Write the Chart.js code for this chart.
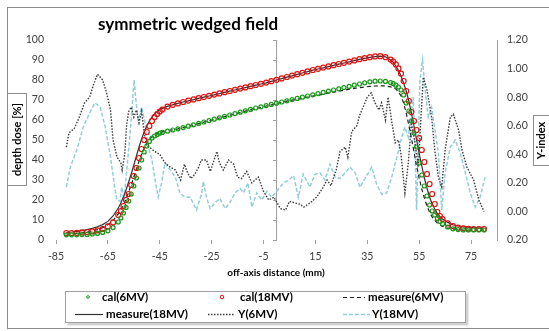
<!DOCTYPE html>
<html>
<head>
<meta charset="utf-8">
<script src="https://cdn.jsdelivr.net/npm/chart.js@4.4.1/dist/chart.umd.min.js"></script>
<style>
  body { margin: 0; background: #fff; }
  #chart { display: block; }
</style>
</head>
<body>
<canvas id="chart" width="549" height="331"></canvas>
<script>
// off-axis positions (mm) shared by the four profile series
const profX = [-81, -79, -77, -75, -73, -71, -69, -67, -65, -63, -61,
  -60, -59, -58, -57, -56, -55, -54, -53, -52, -51, -50, -49, -48, -47, -46, -45, -44,
  -42, -40, -38, -36, -34, -32, -30, -28, -26, -24, -22, -20, -18, -16, -14, -12, -10, -8, -6, -4, -2,
  0, 2, 4, 6, 8, 10, 12, 14, 16, 18, 20, 22, 24, 26, 28, 30, 32, 34, 36, 38, 40, 42, 44,
  45, 46, 47, 48, 49, 50, 51, 52, 53, 54, 55, 56, 57, 58, 59, 60, 61, 62, 63, 64,
  66, 68, 70, 72, 74, 76, 78, 80];

const cal6 = [2.6, 2.6, 2.6, 2.7, 2.8, 3.0, 3.3, 3.8, 4.6, 6.2, 9.0,
  11, 13.5, 16.3, 19.5, 23, 27, 31, 36, 40, 44, 47, 49.3, 51, 52, 52.8, 53.4, 53.8,
  54.4, 55.0, 55.6, 56.2, 56.9, 57.6, 58.3, 59.0, 59.7, 60.4, 61.1, 61.8, 62.5, 63.2, 63.9, 64.6, 65.3, 66.0, 66.6, 67.2, 67.8,
  68.4, 69.0, 69.6, 70.2, 70.8, 71.4, 72.0, 72.6, 73.2, 73.8, 74.4, 75.0, 75.6, 76.2, 76.8, 77.4, 78.0, 78.6, 79.1, 79.4, 79.5, 79.3, 78.7,
  78.2, 77.4, 76.5, 75.0, 72.5, 68.5, 64.5, 59.5, 53.5, 46.5, 38.5, 32.5, 27, 22, 17.5, 14.5, 12.5, 10.8, 9.3, 8.0,
  6.5, 5.6, 5.2, 5.0, 5.0, 5.0, 5.0, 5.0];

const cal18 = [3.5, 3.5, 3.6, 3.8, 4.0, 4.3, 4.8, 5.5, 6.8, 8.8, 12.5,
  14.5, 17, 20, 23, 27.5, 32, 36, 41, 45.5, 50, 54, 57, 59.5, 61.5, 63, 64.2, 65.2,
  66.7, 67.6, 68.3, 69.0, 69.7, 70.3, 70.9, 71.5, 72.1, 72.7, 73.3, 73.9, 74.5, 75.1, 75.7, 76.3, 76.9, 77.5, 78.1, 78.7, 79.4,
  80.1, 80.8, 81.5, 82.2, 82.9, 83.6, 84.3, 85.0, 85.6, 86.2, 86.8, 87.4, 88.0, 88.6, 89.2, 89.8, 90.4, 90.9, 91.4, 91.8, 91.9, 91.4, 90.2,
  89.2, 87.8, 85.8, 83.2, 79.5, 74.5, 69.5, 64, 59.5, 55, 51, 45, 39, 33, 28, 23, 18, 14, 12, 10.5,
  8.3, 7.0, 6.2, 5.8, 5.6, 5.5, 5.5, 5.5];

const meas6 = [3.0, 3.1, 3.3, 3.6, 4.0, 4.5, 5.2, 6.2, 7.6, 9.8, 13,
  15, 17.5, 20.5, 24, 27.5, 31.5, 35.5, 39.5, 43, 46, 48.5, 50.3, 51.6, 52.5, 53.2, 53.7, 54.1,
  54.6, 55.1, 55.6, 56.2, 56.8, 57.5, 58.2, 58.9, 59.6, 60.3, 61.0, 61.7, 62.4, 63.0, 63.7, 64.4, 65.1, 65.8, 66.4, 67.0, 67.6,
  68.2, 68.8, 69.4, 69.9, 70.4, 70.9, 71.4, 71.9, 72.4, 72.9, 73.4, 73.9, 74.4, 74.9, 75.4, 75.8, 76.2, 76.5, 76.8, 77.0, 77.1, 77.0, 76.6,
  76.2, 75.5, 74.2, 72.0, 68.5, 63.5, 57.5, 51, 44, 37, 31, 25.5, 21, 17, 14, 11.5, 9.8, 8.5, 7.5, 6.8,
  5.9, 5.4, 5.2, 5.0, 5.0, 5.0, 5.0, 5.0];

const meas18 = [3.8, 4.0, 4.3, 4.7, 5.2, 5.8, 6.6, 7.7, 9.3, 12, 16,
  18.5, 21.5, 25, 29, 33, 37.5, 42, 46.5, 50.5, 54, 57, 59.5, 61.5, 63, 64.2, 65.1, 65.8,
  66.8, 67.6, 68.3, 69.0, 69.6, 70.2, 70.8, 71.4, 72.0, 72.6, 73.2, 73.8, 74.4, 75.0, 75.6, 76.2, 76.8, 77.4, 78.0, 78.6, 79.3,
  80.0, 80.7, 81.4, 82.1, 82.8, 83.5, 84.2, 84.9, 85.5, 86.1, 86.7, 87.3, 87.9, 88.5, 89.1, 89.7, 90.3, 90.8, 91.3, 91.7, 91.9, 91.6, 90.0,
  88.8, 87.0, 84.8, 82.0, 78.5, 74.5, 69.5, 63.5, 57, 50, 43.5, 37, 31, 26, 21.5, 18, 15.5, 13.3, 11.7, 10.5,
  8.8, 7.6, 7.0, 6.6, 6.4, 6.2, 6.1, 6.0];

// gamma index, 6MV
const gamX6 = [-81, -80, -78, -76, -74, -72, -70.5, -69, -67, -65.5, -64, -63, -61.5, -60, -59.5, -58.5, -57.8, -57, -56, -55,
  -54, -53, -52, -51, -50, -49, -47, -45, -43, -41, -39, -37, -35.5, -34.5, -33, -31.5, -30, -29, -27, -25.5,
  -23, -22, -20.5, -18.5, -16.5, -15, -13.5, -11.5, -9.5, -7, -5, -3, -1, 1.5, 3.5, 5, 7, 9, 10.5, 13,
  15.5, 18, 19.5, 21, 23, 24.5, 26.5, 27.5, 29, 31, 32, 35, 36.5, 38, 39.5, 40.5, 42, 43, 44.5, 45.8,
  47, 48, 49, 49.5, 50.8, 52, 53.4, 54.7, 55.5, 56.6, 58, 59.8, 61, 62.4, 63.7, 65, 67, 68.2, 70.2, 71.5,
  73.4, 76, 78, 80];
const gamma6 = [0.45, 0.55, 0.58, 0.66, 0.76, 0.80, 0.89, 0.96, 0.92, 0.83, 0.71, 0.50, 0.38, 0.34, 0.29, 0.40, 0.60, 0.70, 0.73, 0.66,
  0.71, 0.62, 0.70, 0.55, 0.46, 0.45, 0.42, 0.40, 0.34, 0.31, 0.29, 0.22, 0.33, 0.28, 0.23, 0.26, 0.31, 0.36, 0.36, 0.28,
  0.42, 0.34, 0.29, 0.36, 0.33, 0.24, 0.23, 0.28, 0.20, 0.24, 0.14, 0.08, 0.10, 0.02, 0.01, 0.07, 0.06, 0.05, 0.03, 0.06,
  0.10, 0.17, 0.22, 0.18, 0.29, 0.42, 0.45, 0.38, 0.56, 0.60, 0.67, 0.80, 0.83, 0.76, 0.71, 0.76, 0.64, 0.80, 0.62, 0.48,
  0.50, 0.40, 0.22, 0.13, 0.34, 0.62, 0.48, 0.31, 0.60, 0.94, 0.85, 0.66, 0.43, 0.24, 0.17, 0.43, 0.66, 0.68, 0.57, 0.43,
  0.31, 0.22, 0.08, 0.00];

// gamma index, 18MV
const gamX18 = [-81, -79.5, -77, -74.5, -72, -70, -68, -66, -64, -62.3, -61.5, -60.3, -59.7, -58.8, -57, -55.8, -54.9, -54.2, -53.3, -52,
  -50.7, -49.4, -48, -46.8, -45.6, -44.3, -43, -41, -39, -37.2, -35.3, -33.3, -30.8, -28.8, -28.2, -27, -25.6, -23.7, -21.8, -19.8,
  -18, -16, -14, -12.8, -11, -9.5, -7.6, -5.7, -3.7, -1.8, 0, 2.7, 4.6, 6.6, 8.4, 10.3, 12.9, 14.8, 16.8, 18.7,
  20.6, 22.6, 24.5, 26.4, 28.3, 30.3, 32.2, 34.1, 36.7, 38.6, 40.6, 42.5, 44.4, 46.4, 48.3, 49.5, 50.8, 52.7, 53.4, 54,
  55.3, 56.3, 57.3, 58.5, 59.8, 61.1, 62.4, 63.7, 65, 67, 68.9, 70.8, 72.8, 74.7, 76.6, 78.5, 80.4];
const gamma18 = [0.17, 0.31, 0.43, 0.59, 0.69, 0.76, 0.73, 0.59, 0.38, 0.16, 0.08, 0.07, 0.17, 0.08, 0.43, 0.69, 0.92, 0.78, 0.64, 0.73,
  0.62, 0.45, 0.36, 0.22, 0.10, 0.20, 0.34, 0.29, 0.24, 0.13, 0.10, 0.10, 0.01, 0.13, 0.21, 0.10, 0.02, 0.06, 0.09, 0.02,
  0.06, 0.13, 0.16, 0.13, 0.20, 0.03, 0.13, 0.08, 0.14, 0.10, 0.14, 0.20, 0.22, 0.25, 0.10, 0.26, 0.17, 0.26, 0.27, 0.22,
  0.33, 0.24, 0.23, 0.27, 0.31, 0.27, 0.17, 0.23, 0.31, 0.19, 0.12, 0.13, 0.24, 0.38, 0.52, 0.59, 0.52, 0.80, 0.43, 0.01,
  0.92, 1.06, 0.85, 0.66, 0.73, 0.57, 0.41, 0.01, 0.27, 0.45, 0.50, 0.41, 0.27, 0.13, 0.03, 0.10, 0.24];

// tick labels
const xTicks = [-85, -65, -45, -25, -5, 15, 35, 55, 75];
const doseTicks = [0, 10, 20, 30, 40, 50, 60, 70, 80, 90, 100];
const gammaTicks = [-0.2, 0, 0.2, 0.4, 0.6, 0.8, 1.0, 1.2];

const FONT = "Lato, 'Liberation Sans', sans-serif";
const TXT = "#404040";

function pts(xs, ys) {
  return xs.map((x, i) => ({ x: x, y: ys[i] }));
}
function fixTicks(values) {
  return function (scale) {
    scale.ticks = values.map((v) => ({ value: v }));
  };
}

// Chart frame, titles and the boxed legend
const decor = {
  id: "decor",
  beforeDraw(chart) {
    const ctx = chart.ctx;
    ctx.save();
    ctx.fillStyle = "#fff";
    ctx.fillRect(0, 0, chart.width, chart.height);
    ctx.strokeStyle = "#8c8c8c";
    ctx.lineWidth = 1;
    ctx.strokeRect(7.5, 7.5, 600, 321);
    ctx.restore();
  },
  afterDraw(chart) {
    const ctx = chart.ctx;
    ctx.save();
    ctx.fillStyle = "#000";
    ctx.textBaseline = "alphabetic";
    ctx.textAlign = "left";
    ctx.font = "bold 17px " + FONT;
    ctx.fillText("symmetric wedged field", 98, 30);

    ctx.textAlign = "center";
    ctx.textBaseline = "middle";
    ctx.font = "bold 10px " + FONT;
    ctx.fillText("off-axis distance (mm)", 276, 273);

    // left axis title box
    ctx.strokeStyle = "#8c8c8c";
    ctx.strokeRect(7.5, 93.5, 19, 92);
    ctx.save();
    ctx.translate(17.5, 139.5);
    ctx.rotate(-Math.PI / 2);
    ctx.font = "bold 11px " + FONT;
    ctx.fillText("depth dose [%]", 0, 0);
    ctx.restore();

    // right axis title box
    ctx.strokeRect(533.5, 115.5, 30, 50);
    ctx.save();
    ctx.translate(541, 140.5);
    ctx.rotate(-Math.PI / 2);
    ctx.font = "bold 11px " + FONT;
    ctx.fillText("Y-index", 0, 0);
    ctx.restore();

    // legend
    const lx = 65.5, ly = 291.5, lw = 400, lh = 31;
    ctx.fillStyle = "rgba(0,0,0,0.18)";
    ctx.fillRect(lx + 2, ly + 2, lw + 1, lh + 1);
    ctx.fillStyle = "#fff";
    ctx.fillRect(lx, ly, lw, lh);
    ctx.strokeStyle = "#a0a0a0";
    ctx.strokeRect(lx, ly, lw, lh);

    const r1 = 297, r2 = 314;
    const items = chart.data.datasets;
    const place = [
      { x: 88, tx: 102, y: r1 },
      { x: 222, tx: 240, y: r1 },
      { x: 343, x2: 365, tx: 368, y: r1 },
      { x: 75, x2: 103, tx: 106, y: r2 },
      { x: 208, x2: 235, tx: 238, y: r2 },
      { x: 343, x2: 370, tx: 372, y: r2 },
    ];
    items.forEach((ds, i) => {
      const p = place[i];
      if (ds.showLine) {
        ctx.save();
        ctx.strokeStyle = ds.borderColor;
        ctx.lineWidth = ds.borderWidth;
        ctx.setLineDash(ds.borderDash || []);
        ctx.beginPath();
        ctx.moveTo(p.x, p.y + 0.5);
        ctx.lineTo(p.x2, p.y + 0.5);
        ctx.stroke();
        ctx.restore();
      } else {
        ctx.save();
        ctx.strokeStyle = ds.borderColor;
        ctx.lineWidth = 1;
        ctx.beginPath();
        ctx.arc(p.x, p.y, i === 0 ? 1.3 : 1.8, 0, Math.PI * 2);
        ctx.stroke();
        ctx.restore();
      }
      ctx.fillStyle = "#000";
      ctx.textAlign = "left";
      ctx.textBaseline = "middle";
      ctx.font = "bold 11.5px " + FONT;
      ctx.fillText(ds.label, p.tx, p.y);
    });
    ctx.restore();
  },
};

const ctx = document.getElementById("chart").getContext("2d");
new Chart(ctx, {
  type: "scatter",
  data: {
    datasets: [
      {
        label: "cal(6MV)",
        data: pts(profX, cal6),
        yAxisID: "y",
        borderColor: "#1a961a",
        backgroundColor: "rgba(40,160,40,0.08)",
        borderWidth: 1.2,
        pointRadius: 2,
      },
      {
        label: "cal(18MV)",
        data: pts(profX, cal18),
        yAxisID: "y",
        borderColor: "#e01010",
        backgroundColor: "rgba(255,255,255,0)",
        borderWidth: 1.2,
        pointRadius: 2.5,
      },
      {
        label: "measure(6MV)",
        data: pts(profX, meas6),
        yAxisID: "y",
        showLine: true,
        borderColor: "#222",
        borderWidth: 1.2,
        borderDash: [4, 3],
        pointRadius: 0,
      },
      {
        label: "measure(18MV)",
        data: pts(profX, meas18),
        yAxisID: "y",
        showLine: true,
        borderColor: "#333",
        borderWidth: 1.2,
        pointRadius: 0,
      },
      {
        label: "Y(6MV)",
        data: pts(gamX6, gamma6),
        yAxisID: "y1",
        showLine: true,
        borderColor: "#3a3a3a",
        borderWidth: 1.4,
        borderDash: [1.5, 1.5],
        pointRadius: 0,
      },
      {
        label: "Y(18MV)",
        data: pts(gamX18, gamma18),
        yAxisID: "y1",
        showLine: true,
        borderColor: "#92cddc",
        borderWidth: 1.5,
        borderDash: [4, 2],
        pointRadius: 0,
      },
    ],
  },
  options: {
    responsive: false,
    animation: false,
    devicePixelRatio: 1,
    layout: { padding: { top: 40, left: 0, right: 0, bottom: 0 } },
    plugins: {
      legend: { display: false },
      title: { display: false },
      tooltip: { enabled: false },
    },
    scales: {
      x: {
        type: "linear",
        min: -85,
        max: 85,
        afterBuildTicks: fixTicks(xTicks),
        afterFit: (s) => { s.height = 91; },
        border: { display: false },
        grid: { drawOnChartArea: false, drawTicks: true, tickLength: 4, color: "#a0a0a0" },
        ticks: { color: TXT, font: { family: FONT, size: 10.5 }, padding: 6, maxRotation: 0 },
      },
      y: {
        position: "left",
        min: 0,
        max: 100,
        afterBuildTicks: fixTicks(doseTicks),
        afterFit: (s) => { s.width = 56; },
        border: { display: false },
        grid: { display: false, drawTicks: false },
        ticks: { color: TXT, font: { family: FONT, size: 10.5 }, padding: 12 },
      },
      yMid: {
        axis: "y",
        position: { x: 0 },
        min: 0,
        max: 100,
        afterBuildTicks: fixTicks(doseTicks),
        border: { display: true, color: "#a0a0a0" },
        grid: { drawOnChartArea: false, drawTicks: true, tickLength: 3, color: "#a0a0a0" },
        ticks: { display: false },
      },
      y1: {
        position: "right",
        min: -0.2,
        max: 1.2,
        afterBuildTicks: fixTicks(gammaTicks),
        afterFit: (s) => { s.width = 52; },
        border: { display: true, color: "#a0a0a0" },
        grid: { display: false, drawTicks: false },
        ticks: {
          color: TXT,
          font: { family: FONT, size: 10.5 },
          padding: 10,
          callback: (v) => Math.abs(v).toFixed(2),
        },
      },
    },
  },
  plugins: [decor],
});
</script>
</body>
</html>
